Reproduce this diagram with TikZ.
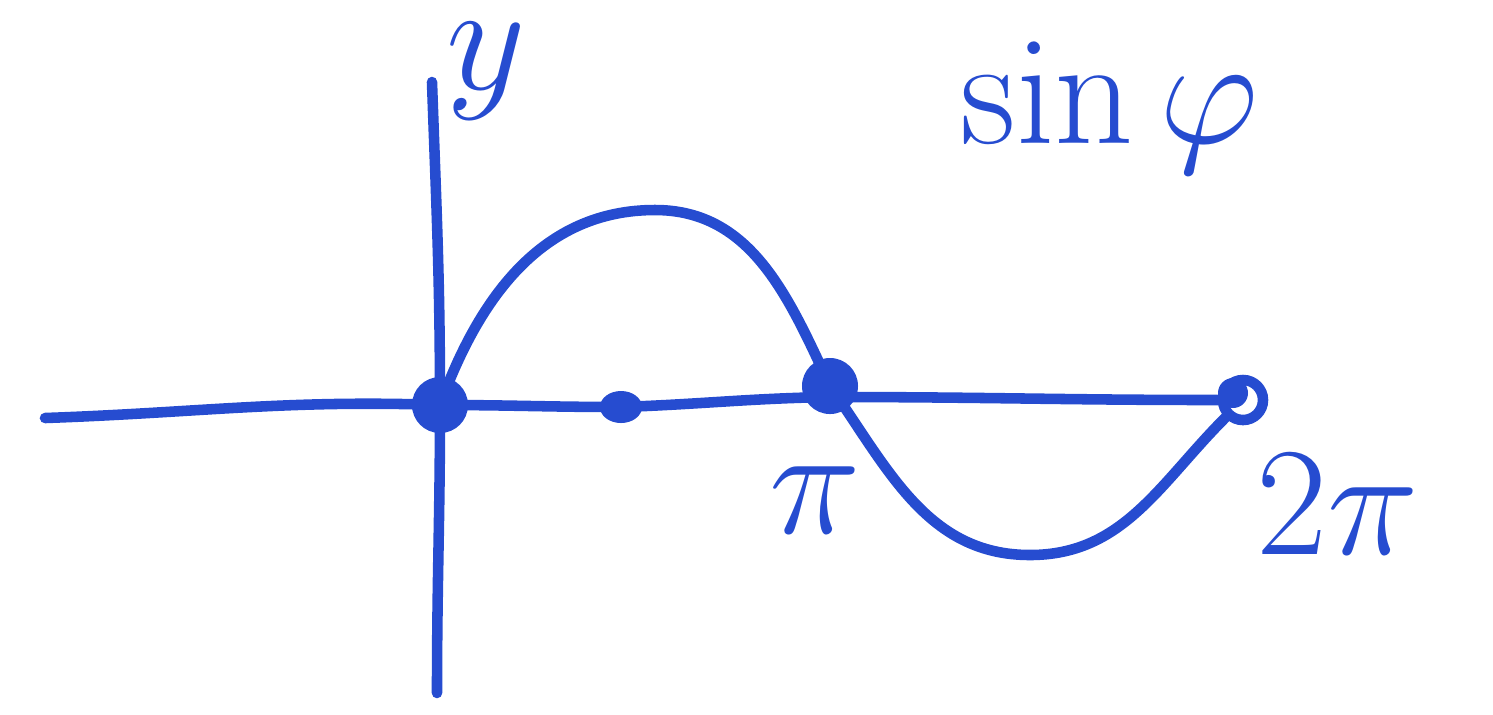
\documentclass[tikz,border=0pt]{standalone}
\usepackage{fix-cm}
\usepackage{tikz}
\usetikzlibrary{shapes.geometric}
\definecolor{pen}{RGB}{38,76,208}
\newcommand{\lblfont}{\fontsize{44}{50}\selectfont}
\tikzset{
    ink/.style={draw=pen, line width=3pt, line cap=round, line join=round},
    blob/.style={circle, fill=pen, inner sep=0pt},
    lbl/.style={text=pen, inner sep=0pt, font=\lblfont}
}

\begin{document}
\begin{tikzpicture}[x=0.01cm,y=-0.01cm]
    \useasboundingbox (0,0) rectangle (1493,714);
    \node[blob, minimum size=0.56cm] (O) at (440,405) {};
    \node[blob, ellipse, minimum width=0.42cm, minimum height=0.32cm] (H) at (621,407) {};
    \node[blob, minimum size=0.56cm] (P) at (830,386) {};
    \node[circle, draw=pen, line width=3pt, minimum size=0.4cm, inner sep=0pt] (Q) at (1243,400) {};
    \fill[pen] (1233,393) circle (15);
    \coordinate (L) at (45,418);
    \coordinate (T) at (432,82);
    \coordinate (B) at (437,693);
    \coordinate (M) at (655,210);
    \coordinate (V) at (1030,555);
    \node[lbl, anchor=north] (Y) at (486,22) {$y$};
    \node[lbl] (S) at (1110,108) {$\sin\varphi$};
    \node[lbl] (Pi) at (815,500) {$\pi$};
    \node[lbl] (TwoPi) at (1338,505) {$2\pi$};
    \draw[ink] (L) to[out=2,in=178] (O.center) to[out=0,in=180] (H.center) to[out=2,in=181] (830,397) to[out=0,in=180] (Q.west);
    \draw[ink] (T) to[out=-88,in=90] (O.center) to[out=-90,in=90] (B);
    \draw[ink] (O.center) to[out=70,in=180] (M) to[out=0,in=115] (P.center) to[out=-55,in=180] (V) to[out=0,in=-135] (Q.south west);
\end{tikzpicture}
\end{document}
